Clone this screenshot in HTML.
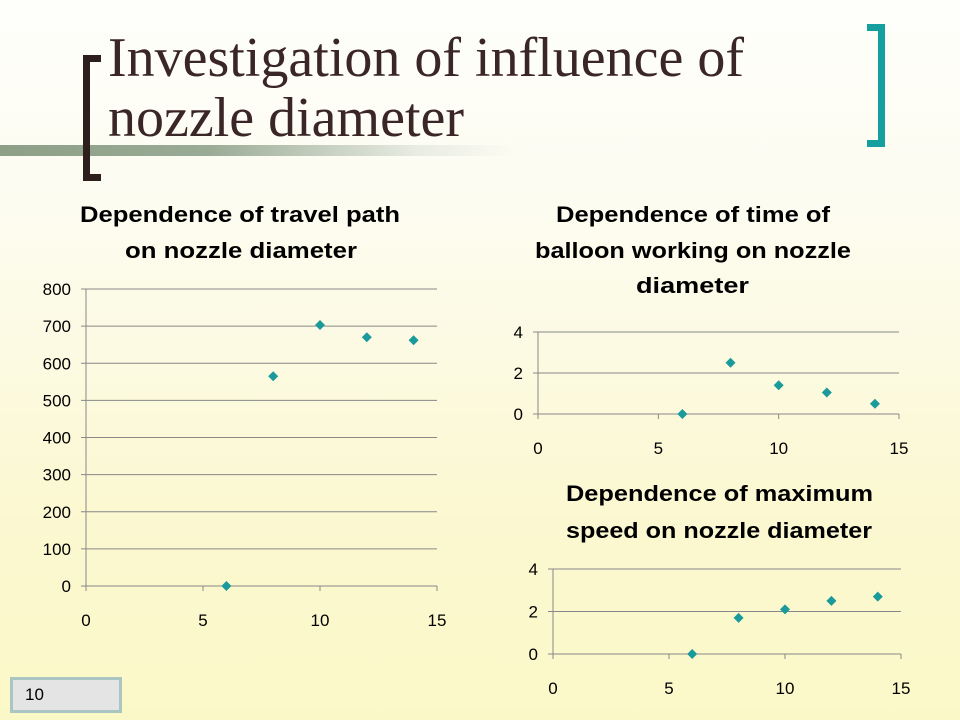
<!DOCTYPE html>
<html><head><meta charset="utf-8"><style>
body{margin:0;width:960px;height:720px;overflow:hidden;background:linear-gradient(#fefefb 0%,#fdfcf0 30%,#fbf8d2 70%,#fbf8c8 100%);font-family:"Liberation Sans",sans-serif;position:relative}
.abs{position:absolute}
</style></head><body>
<div class="abs" style="left:0;top:145px;width:520px;height:11px;background:linear-gradient(90deg,#8e9f88 0%,#9aab95 40%,rgba(200,210,200,0.4) 80%,rgba(255,255,255,0) 100%)"></div>
<div class="abs" style="left:83px;top:55px;height:112px;border:7px solid #2e1f1f;border-right:none;width:11px"></div>
<div class="abs" style="left:867px;top:24px;width:11px;height:109px;border:7px solid #169f9f;border-left:none"></div>
<div class="abs" style="left:108px;top:28px;font-family:'Liberation Serif',serif;font-size:56px;line-height:60px;color:#3a2626;white-space:nowrap">Investigation of influence of<br>nozzle diameter</div>
<div class="abs" style="left:10px;top:677px;width:106px;height:30px;border:3px solid #a9c6c3;background:#e4e4e4;font-size:17px;line-height:30px;text-indent:12px">10</div>
<svg class="abs" style="left:0;top:0" width="960" height="720" font-family="Liberation Sans, sans-serif">
<g id="c1"></g><g id="c2"></g><g id="c3"></g>
<g font-weight="bold" font-size="22" lengthAdjust="spacingAndGlyphs">
<text x="80" y="222" textLength="320" lengthAdjust="spacingAndGlyphs">Dependence of travel path</text>
<text x="125" y="258" textLength="232" lengthAdjust="spacingAndGlyphs">on nozzle diameter</text>
<text x="556" y="222" textLength="274" lengthAdjust="spacingAndGlyphs">Dependence of time of</text>
<text x="535" y="258" textLength="316" lengthAdjust="spacingAndGlyphs">balloon working on nozzle</text>
<text x="636" y="293" textLength="113" lengthAdjust="spacingAndGlyphs">diameter</text>
<text x="566" y="501" textLength="307" lengthAdjust="spacingAndGlyphs">Dependence of maximum</text>
<text x="566" y="538" textLength="306" lengthAdjust="spacingAndGlyphs">speed on nozzle diameter</text>
</g>
</svg>
<script>
const xs = [6, 8, 10, 12, 14];
const travelPath = [0, 565, 703, 670, 662];
const workTime = [0, 2.5, 1.4, 1.05, 0.5];
const maxSpeed = [0, 1.7, 2.1, 2.5, 2.7];
const xTicks = [0, 5, 10, 15];
const yTicks1 = [0, 100, 200, 300, 400, 500, 600, 700, 800];
const yTicks2 = [0, 2, 4];
const NS = "http://www.w3.org/2000/svg";
function mk(g, tag, attrs){const e=document.createElementNS(NS,tag);for(const k in attrs)e.setAttribute(k,attrs[k]);g.appendChild(e);return e;}
function chart(id, name, box, yMax, yT, vals){
  const g=document.getElementById(id);
  const sx=v=>box.x0+(box.x1-box.x0)*v/15;
  const sy=v=>box.y0-(box.y0-box.y1)*v/yMax;
  yT.forEach(t=>{
    const l=mk(g,'line',{x1:box.x0-5,x2:box.x1,y1:sy(t),y2:sy(t),stroke:'#888','stroke-width':1});
    
    
    const tx=mk(g,'text',{x:box.x0-15,y:sy(t)+6,'text-anchor':'end','font-size':17});
    tx.textContent=t;
    
    
  });
  const ya=mk(g,'line',{x1:box.x0,x2:box.x0,y1:box.y1,y2:box.y0+5,stroke:'#888'});
  
  
  xTicks.forEach(t=>{
    const l=mk(g,'line',{x1:sx(t),x2:sx(t),y1:box.y0,y2:box.y0+5,stroke:'#888'});
    
    
    const tx=mk(g,'text',{x:sx(t),y:box.y0+40,'text-anchor':'middle','font-size':17});
    tx.textContent=t;
    
    
  });
  xs.forEach((x,i)=>{
    const cx=sx(x),cy=sy(vals[i]);
    const p=mk(g,'polygon',{points:`${cx},${cy-5} ${cx+5},${cy} ${cx},${cy+5} ${cx-5},${cy}`,fill:'#1a9a9a'});
    
    
  });
}
chart('c1','travel-chart',{x0:86,x1:437,y0:586,y1:289},800,yTicks1,travelPath);
chart('c2','time-chart',{x0:538,x1:899,y0:414,y1:332},4,yTicks2,workTime);
chart('c3','speed-chart',{x0:553,x1:901,y0:654,y1:569},4,yTicks2,maxSpeed);
</script>
</body></html>
